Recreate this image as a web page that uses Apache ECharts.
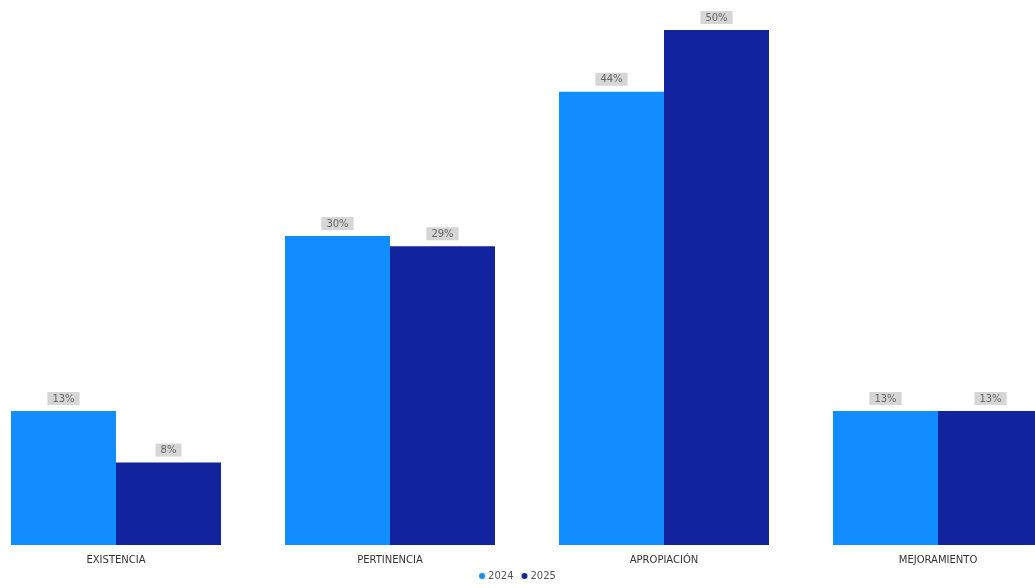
<!DOCTYPE html>
<html>
<head>
<meta charset="utf-8">
<script src="https://cdn.jsdelivr.net/npm/echarts@6/dist/echarts.min.js"></script>
<style>html,body{margin:0;padding:0;background:#fff;}#c{width:1035px;height:588px;}</style>
</head>
<body>
<div id="c"></div>
<script>
const categories = ['EXISTENCIA', 'PERTINENCIA', 'APROPIACIÓN', 'MEJORAMIENTO'];
const seriesNames = ['2024', '2025'];
const values2024 = [13, 30, 44, 13];
const values2025 = [8, 29, 50, 13];

const font = '"DejaVu Sans Condensed", "DejaVu Sans", sans-serif';
const wideFont = '"DejaVu Sans", sans-serif';
const labelStyle = {
  show: true,
  position: 'top',
  distance: 6,
  formatter: '{c}%',
  color: '#666',
  fontSize: 10,
  fontFamily: wideFont,
  backgroundColor: '#d6d6d6',
  padding: [2, 5, 1, 5]
};
const chart = echarts.init(document.getElementById('c'));
chart.setOption({
  animation: false,
  grid: { left: -21, width: 1096, top: 30, bottom: 43, containLabel: false, outerBoundsMode: 'none' },
  legend: {
    bottom: 2, left: 'center',
    icon: 'circle', itemWidth: 6, itemHeight: 6, itemGap: 8,
    textStyle: { color: '#555', fontSize: 10, fontFamily: wideFont, padding: [0, 0, 0, -2] },
    data: seriesNames
  },
  xAxis: {
    type: 'category', data: categories,
    axisLine: { show: false }, axisTick: { show: false },
    axisLabel: { color: '#333', fontSize: 10, fontFamily: wideFont, margin: 10 }
  },
  yAxis: { type: 'value', min: 0, max: 50, show: false, splitLine: { show: false } },
  series: [
    { name: seriesNames[0], type: 'bar', data: values2024, barWidth: 105, barGap: '0%', itemStyle: { color: '#118DFF' }, label: labelStyle },
    { name: seriesNames[1], type: 'bar', data: values2025, barWidth: 105, itemStyle: { color: '#12239E' }, label: labelStyle }
  ]
});
</script>
</body>
</html>
